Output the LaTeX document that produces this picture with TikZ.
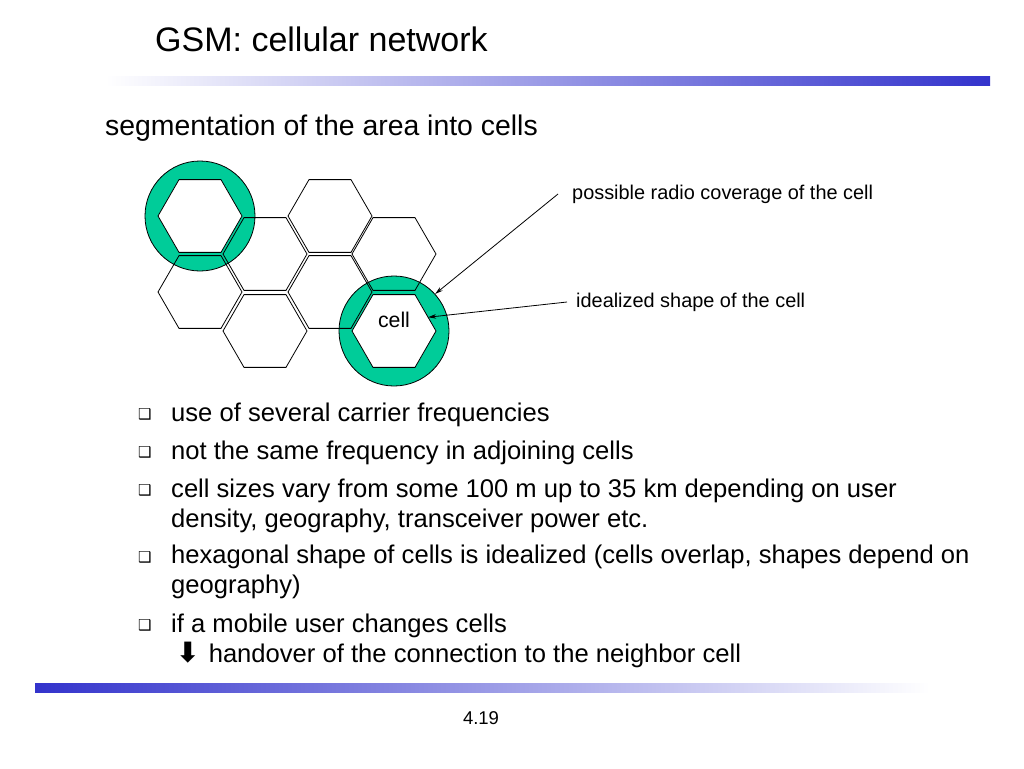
\documentclass[tikz,border=0pt]{standalone}
\usepackage{fontspec}
\setmainfont{Liberation Sans}
\newfontfamily\symfont{DejaVu Sans}
\usetikzlibrary{shapes.geometric,arrows.meta}
\definecolor{cellgreen}{RGB}{0,204,153}
\definecolor{barblue}{RGB}{51,51,204}

\begin{document}
\begin{tikzpicture}[
			x=1pt,y=-1pt,
			every node/.style={inner sep=0pt},
			hex/.style={regular polygon,regular polygon sides=6,
					minimum size=84pt,outer sep=0pt,draw,line width=0.8pt},
			hexcov/.style={hex,fill=white},
			cover/.style={circle,draw,fill=cellgreen,minimum size=110pt,line width=0.8pt},
			point/.style={-{Stealth[length=8pt,width=4.5pt]},line width=0.8pt},
			bullet/.style={anchor=base west,align=left,font=\fontsize{25.6}{30}\selectfont},
			box/.style={anchor=base west,font=\symfont\fontsize{15}{18}\selectfont},
			note/.style={anchor=west,font=\fontsize{19.9}{24}\selectfont}
		]
		\useasboundingbox[fill=white] (0,0) rectangle (1024,768);

		% title and bars
		\node[anchor=base west,font=\fontsize{34}{40}\selectfont] (title) at (155,52) {GSM: cellular network};
		\shade[left color=white,right color=barblue] (105,76) rectangle (990,85);
		\shade[left color=barblue,right color=white] (35,683) rectangle (930,692);
		\node[anchor=base west,font=\fontsize{28.4}{34}\selectfont] (subtitle) at (105,135) {segmentation of the area into cells};

		% coverage circles, then the cells
		\node[cover] (cov00) at (200,216) {};
		\node[cover] (cov31) at (394,331) {};
		\foreach \n/\x/\y/\s in {c00/200/216/hexcov,c01/200/292/hex,c10/265/254/hex,c11/265/331/hex,
				c20/330/216/hex,c21/330/292/hex,c30/394/254/hex,c31/394/331/hexcov}
			\node[\s] (\n) at (\x,\y) {};
		\node[font=\fontsize{21.3}{26}\selectfont] (celltxt) at (394,320) {cell};

		\node[note,inner xsep=14pt] (lblcov) at (558,194) {possible radio coverage of the cell};
		\node[note,inner xsep=9pt] (lblshape) at (567,302) {idealized shape of the cell};
		\draw[point] (lblcov.west) -- (cov31.42);
		\draw[point] (lblshape.west) -- (c31.22);

		% bullets (multi-line texts sit on their last line)
		\foreach \y [count=\i] in {419,457,495,562,630}
		\node[box] (bul\i) at (138,\y) {❑};
		\node[bullet] (txt1) at (171,421.5) {use of several carrier frequencies};
		\node[bullet] (txt2) at (171,459.5) {not the same frequency in adjoining cells};
		\node[bullet] (txt3) at (171,527.5) {cell sizes vary from some 100 m up to 35 km depending on user\\density, geography, transceiver power etc.};
		\node[bullet] (txt4) at (171,593.5) {hexagonal shape of cells is idealized (cells overlap, shapes depend on\\geography)};
		\node[bullet] (txt5) at (171,662.5) {if a mobile user changes cells\\\hspace*{5pt}{\symfont\bfseries\fontsize{28}{30}\selectfont ⬇}\hspace{2pt} handover of the connection to the neighbor cell};

		\node[anchor=base,font=\fontsize{18.5}{22}\selectfont] (pagenum) at (481,724.5) {4.19};
	\end{tikzpicture}
\end{document}
